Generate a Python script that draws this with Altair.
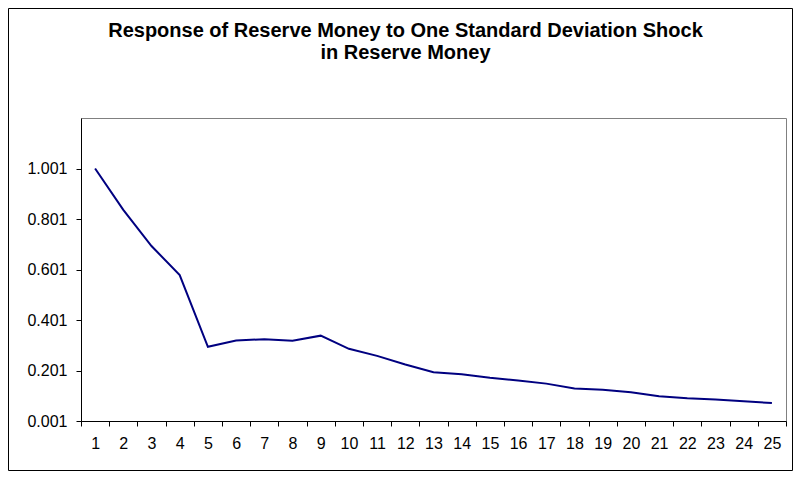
import altair as alt
import pandas as pd

periods = list(range(1, 26))
response = [1.001, 0.837, 0.694, 0.579, 0.295, 0.320, 0.325, 0.319, 0.339, 0.287,
            0.259, 0.225, 0.194, 0.186, 0.172, 0.161, 0.149, 0.130, 0.125, 0.115,
            0.099, 0.091, 0.086, 0.079, 0.072]
y_ticks = [0.001, 0.201, 0.401, 0.601, 0.801, 1.001]
title_lines = ["Response of Reserve Money to One Standard Deviation Shock",
               "in Reserve Money"]

df = pd.DataFrame({"period": periods, "value": response})

W, H = 705, 303
FONT = "Liberation Sans"

line = alt.Chart(df).mark_line(color="#000080", strokeWidth=2).encode(
    x=alt.X("period:O",
            scale=alt.Scale(type="band", paddingInner=0, paddingOuter=0),
            axis=alt.Axis(title=None, labelAngle=0, tickBand="extent",
                          tickSize=5, labelPadding=9, labelFontSize=16,
                          labelFont=FONT, labelColor="black",
                          domainColor="black", tickColor="black")),
    y=alt.Y("value:Q",
            scale=alt.Scale(domain=[0.001, 1.201], nice=False, zero=False),
            axis=alt.Axis(title=None, values=y_ticks, format=".3f", grid=False,
                          tickSize=5, labelPadding=9, labelFontSize=16,
                          labelFont=FONT, labelColor="black",
                          domainColor="black", tickColor="black")),
)

one_row = pd.DataFrame({"a": [0]})

border = alt.Chart(one_row).mark_rect(
    fillOpacity=0, stroke="black", strokeWidth=1
).encode(
    x=alt.value(-72.5), x2=alt.value(711.5),
    y=alt.value(-109.5), y2=alt.value(352.5),
)

title = alt.Chart(one_row).mark_text(
    text=title_lines, font=FONT, fontSize=20, fontWeight="bold",
    color="black", align="center", baseline="alphabetic", lineHeight=22,
).encode(x=alt.value(324.5), y=alt.value(-81.5))

chart = alt.layer(border, title, line).properties(
    width=W, height=H,
    autosize=alt.AutoSizeParams(type="none"),
    padding={"left": 73, "top": 110, "right": 7, "bottom": 50},
).configure_view(stroke="#808080", strokeWidth=1)

chart.save("out.html", embed_options={"renderer": "svg", "actions": False})
